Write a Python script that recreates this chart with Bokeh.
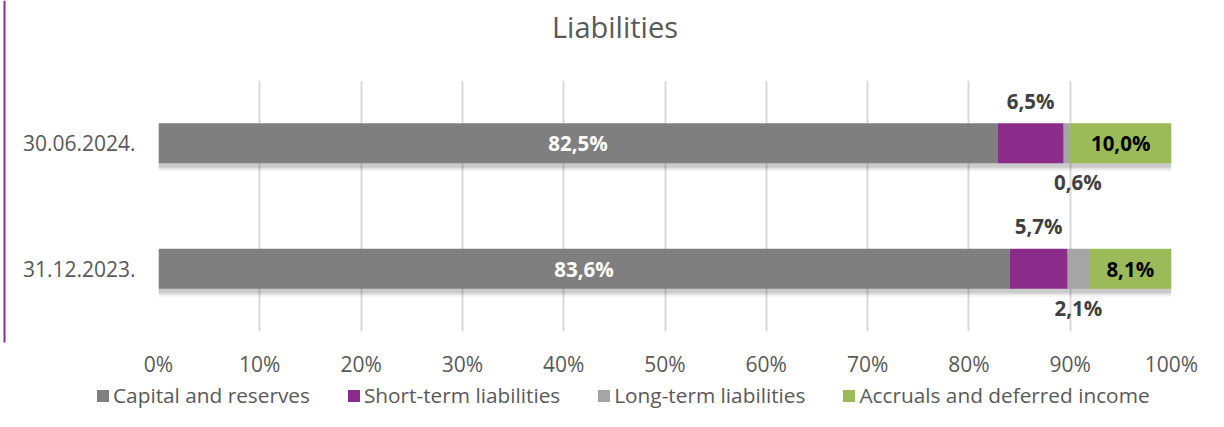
import numpy as np
from bokeh.plotting import figure
from bokeh.models import FactorRange, NumeralTickFormatter, FixedTicker, ColumnDataSource, Div
from bokeh.layouts import row, column
from bokeh.transform import dodge
from bokeh.core.properties import value
from bokeh.embed import file_html
from bokeh.resources import INLINE

title_text = "Liabilities"
categories = ["31.12.2023.", "30.06.2024."]
series = ["Capital and reserves", "Short-term liabilities", "Long-term liabilities", "Accruals and deferred income"]
capital = [83.6, 82.5]
short_term = [5.7, 6.5]
long_term = [2.1, 0.6]
accruals = [8.1, 10.0]
x_ticks = [0, 0.1, 0.2, 0.3, 0.4, 0.5, 0.6, 0.7, 0.8, 0.9, 1.0]

colors = ["#7F7F7F", "#8B2C8B", "#A5A5A5", "#9BBB59"]
FONT = "Open Sans"
TXT = "#595959"

vals = np.array([capital, short_term, long_term, accruals], dtype=float)
totals = vals.sum(axis=0)
fr = vals / totals
rights = np.cumsum(fr, axis=0)
lefts = rights - fr

# ---------------- title ----------------
title_div = Div(
    text=(f'<div style="width:1214px;text-align:center;font-family:\'{FONT}\';font-size:29px;'
          f'color:{TXT};line-height:40px;padding-top:7px;white-space:nowrap">{title_text}</div>'),
    width=1200, height=48, margin=0)

# ---------------- main chart ----------------
p = figure(width=1200, height=332, y_range=FactorRange(factors=categories), x_range=(0, 1),
           output_backend="svg", toolbar_location=None,
           min_border_left=150, min_border_right=37, min_border_top=32, min_border_bottom=49)
p.outline_line_color = None
p.background_fill_color = "white"
p.border_fill_color = "white"

# soft shadow under bars
for off, a in [(-0.035, 0.10), (-0.05, 0.07), (-0.065, 0.04)]:
    p.hbar(y=dodge("y", off, range=p.y_range), left="l", right="r", height=0.32,
           source=ColumnDataSource(dict(y=categories, l=[0, 0], r=[1, 1])),
           fill_color="black", fill_alpha=a, line_color=None)

for i, name in enumerate(series):
    src = ColumnDataSource(dict(y=categories, l=lefts[i], r=rights[i]))
    p.hbar(y="y", left="l", right="r", height=0.32, source=src,
           fill_color=colors[i], line_color=None)

def fmt(v):
    return ("%.1f%%" % v).replace(".", ",")

LBL = "20.5px"
mid = (lefts + rights) / 2
p.text(x=mid[0], y=categories, text=[fmt(v) for v in capital], text_align="center",
       text_baseline="middle", text_color="white", text_font=value(FONT),
       text_font_style="bold", text_font_size=LBL)
p.text(x=mid[3], y=categories, text=[fmt(v) for v in accruals], text_align="center",
       text_baseline="middle", text_color="black", text_font=value(FONT),
       text_font_style="bold", text_font_size=LBL)
src_s = ColumnDataSource(dict(x=mid[1], y=categories, t=[fmt(v) for v in short_term]))
p.text(x="x", y=dodge("y", 0.34, range=p.y_range), text="t", source=src_s, text_align="center",
       text_baseline="middle", text_color="#404040", text_font=value(FONT),
       text_font_style="bold", text_font_size=LBL)
src_l = ColumnDataSource(dict(x=mid[2] + np.array([0.0, 0.011]), y=categories, t=[fmt(v) for v in long_term]))
p.text(x="x", y=dodge("y", -0.31, range=p.y_range), text="t", source=src_l, text_align="center",
       text_baseline="middle", text_color="#404040", text_font=value(FONT),
       text_font_style="bold", text_font_size=LBL)

p.xaxis.ticker = FixedTicker(ticks=x_ticks)
p.xaxis.formatter = NumeralTickFormatter(format="0%")
p.xaxis.axis_line_color = None
p.xaxis.major_tick_line_color = None
p.xaxis.minor_tick_line_color = None
p.xaxis.major_tick_out = 0
p.xaxis.minor_tick_out = 0
p.xaxis.major_label_text_font = FONT
p.xaxis.major_label_text_font_size = "21px"
p.xaxis.major_label_text_color = TXT
p.xaxis.major_label_standoff = 18

p.yaxis.axis_line_color = None
p.yaxis.major_tick_line_color = None
p.yaxis.major_tick_out = 0
p.yaxis.major_label_text_font = FONT
p.yaxis.major_label_text_font_size = "21px"
p.yaxis.major_label_text_color = TXT
p.yaxis.major_label_standoff = 23

p.ygrid.grid_line_color = None
p.xgrid.ticker = FixedTicker(ticks=x_ticks)
p.xgrid.grid_line_color = "#D9D9D9"
p.xgrid.grid_line_width = 2

# ---------------- legend strip ----------------
items_html = "".join(
    f'<div style="display:flex;align-items:center;margin-right:38px">'
    f'<span style="display:inline-block;width:12px;height:12px;background:{c};margin-right:4px"></span>'
    f'<span>{s}</span></div>'
    for s, c in zip(series, colors))
legend_div = Div(
    text=(f'<div style="display:flex;align-items:center;height:28px;padding-top:3px;padding-left:89px;'
          f'font-family:\'{FONT}\';font-size:20.8px;color:{TXT};white-space:nowrap">{items_html}</div>'),
    width=1200, height=31, margin=0)

# ---------------- left accent line ----------------
pe = figure(width=8, height=411, x_range=(0, 8), y_range=(411, 0), output_backend="svg",
            toolbar_location=None, min_border=0, x_axis_type=None, y_axis_type=None)
pe.outline_line_color = None
pe.grid.grid_line_color = None
pe.quad(left=[3], right=[5], top=[0], bottom=[342], fill_color="#8B2C8B", line_color=None)

layout = row(pe, column(title_div, p, legend_div, spacing=0), spacing=0)
open("out.html", "w").write(file_html(layout, INLINE))
